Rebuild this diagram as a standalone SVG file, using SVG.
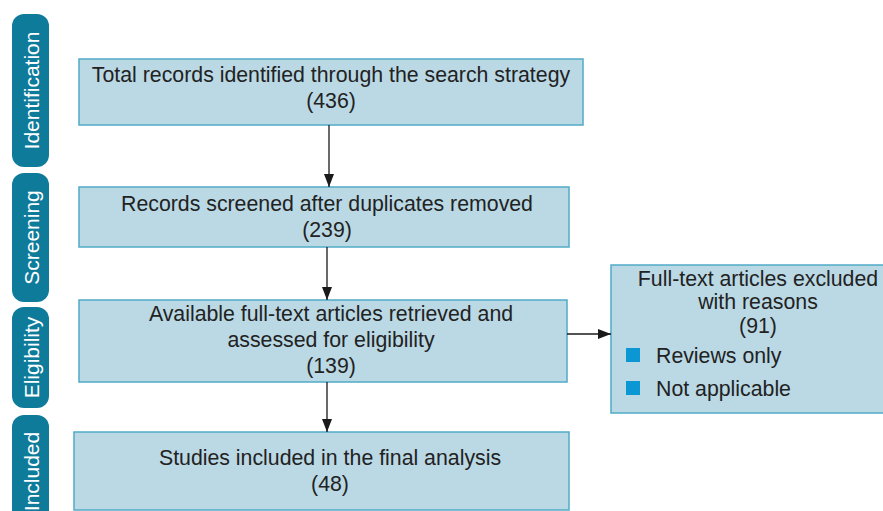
<svg xmlns="http://www.w3.org/2000/svg" width="883" height="511" viewBox="0 0 883 511">
  <defs>
    <marker id="arrow" viewBox="0 0 13 10" refX="13" refY="5" markerWidth="13" markerHeight="10" markerUnits="userSpaceOnUse" orient="auto">
      <path d="M0,0 L13,5 L0,10 z" fill="#1a1a1a"/>
    </marker>
    <style>
      .phase rect { fill: #0f7b9b; }
      .phase text { fill: #ffffff; font-family: "Liberation Sans", Arial, sans-serif; font-size: 21px; text-anchor: middle; }
      .box rect.frame { fill: #bad9e5; stroke: #4fabc6; stroke-width: 1.5; }
      .box text { fill: #222222; font-family: "Liberation Sans", Arial, sans-serif; font-size: 21.3px; text-anchor: middle; }
      .box text.item { text-anchor: start; }
      .bullet { fill: #0a97d4; }
      .edges line { stroke: #1a1a1a; stroke-width: 1.3; marker-end: url(#arrow); }
    </style>
  </defs>
  <rect width="883" height="511" fill="#ffffff"/>

  <!-- phase labels -->
  <g id="phase-identification" class="phase">
    <rect x="12" y="14" width="37" height="153" rx="12"/>
    <text transform="translate(39,90.5) rotate(-90)">Identification</text>
  </g>
  <g id="phase-screening" class="phase">
    <rect x="12" y="173" width="37" height="129" rx="12"/>
    <text transform="translate(39,237.5) rotate(-90)">Screening</text>
  </g>
  <g id="phase-eligibility" class="phase">
    <rect x="12" y="307" width="37" height="101" rx="12"/>
    <text transform="translate(39,357.5) rotate(-90)">Eligibility</text>
  </g>
  <g id="phase-included" class="phase">
    <rect x="12" y="415" width="37" height="120" rx="12"/>
    <text transform="translate(39,471.5) rotate(-90)">Included</text>
  </g>

  <!-- flow boxes -->
  <g id="identified" class="box">
    <rect class="frame" x="79" y="59" width="504" height="66"/>
    <text x="331" y="82">Total records identified through the search strategy</text>
    <text x="331" y="108">(436)</text>
  </g>
  <g id="screened" class="box">
    <rect class="frame" x="79" y="187" width="490" height="60"/>
    <text x="327" y="211">Records screened after duplicates removed</text>
    <text x="327" y="237">(239)</text>
  </g>
  <g id="assessed" class="box">
    <rect class="frame" x="79" y="300" width="488" height="82"/>
    <text x="331" y="321">Available full-text articles retrieved and</text>
    <text x="331" y="347">assessed for eligibility</text>
    <text x="331" y="373">(139)</text>
  </g>
  <g id="included" class="box">
    <rect class="frame" x="74" y="432" width="495" height="78"/>
    <text x="330" y="465">Studies included in the final analysis</text>
    <text x="330" y="491">(48)</text>
  </g>
  <g id="excluded" class="box">
    <rect class="frame" x="611" y="265" width="280" height="148"/>
    <text x="758" y="286">Full-text articles excluded</text>
    <text x="758" y="309">with reasons</text>
    <text x="758" y="333">(91)</text>
    <rect class="bullet" x="626" y="348" width="14" height="14"/>
    <text class="item" x="656" y="363">Reviews only</text>
    <rect class="bullet" x="626" y="381" width="14" height="14"/>
    <text class="item" x="656" y="396">Not applicable</text>
  </g>

  <!-- connectors -->
  <g id="connectors" class="edges">
    <line x1="329" y1="125" x2="329" y2="187"/>
    <line x1="327" y1="247" x2="327" y2="300"/>
    <line x1="327" y1="382" x2="327" y2="432"/>
    <line x1="567" y1="334" x2="611" y2="334"/>
  </g>
</svg>
